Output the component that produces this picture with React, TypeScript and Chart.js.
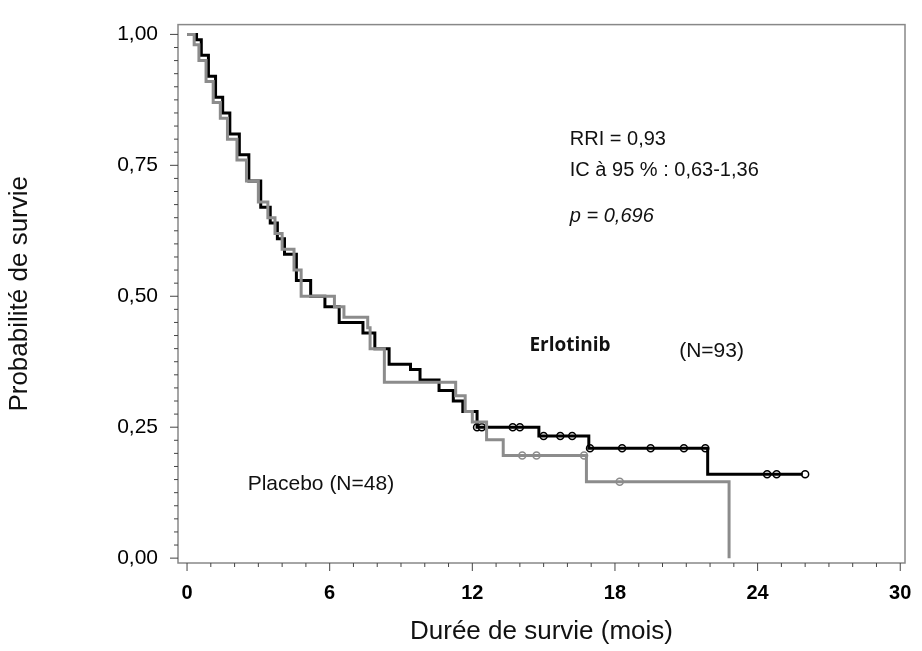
import React, { useEffect, useRef } from "react";
import { Chart, registerables } from "chart.js";
Chart.register(...registerables);

const erloT = [0, 0.4, 0.6, 0.9, 1.2, 1.5, 1.8, 2.2, 2.6, 3.1, 3.5, 3.8, 4.1, 4.6, 5.2, 5.8, 6.4, 7.4, 7.9, 8.5, 9.4, 9.8, 10.6, 11.2, 11.6, 12.2, 14.8, 16.9, 21.9, 25.9];
const erloS = [1.0, 0.99, 0.96, 0.92, 0.88, 0.85, 0.81, 0.77, 0.72, 0.67, 0.64, 0.61, 0.58, 0.53, 0.5, 0.48, 0.45, 0.43, 0.4, 0.37, 0.36, 0.34, 0.32, 0.3, 0.28, 0.25, 0.233, 0.21, 0.16, 0.16];
const placT = [0, 0.3, 0.5, 0.8, 1.1, 1.4, 1.7, 2.1, 2.5, 3.0, 3.4, 3.7, 4.0, 4.5, 4.8, 6.2, 6.6, 7.6, 7.7, 8.3, 11.3, 11.7, 12.0, 12.6, 13.3, 16.8, 22.8];
const placS = [1.0, 0.98, 0.95, 0.91, 0.87, 0.84, 0.8, 0.76, 0.72, 0.68, 0.65, 0.62, 0.59, 0.55, 0.5, 0.48, 0.46, 0.44, 0.4, 0.336, 0.31, 0.28, 0.26, 0.226, 0.196, 0.146, 0.0];
const erloCens = [12.2, 12.4, 13.7, 14.0, 15.0, 15.7, 16.2, 16.95, 18.3, 19.5, 20.9, 21.8, 24.4, 24.8, 26.0];
const placCens = [14.1, 14.7, 16.7, 18.2];
const xTicks = [0, 6, 12, 18, 24, 30];
const yTicks = [0, 0.25, 0.5, 0.75, 1.0];

const stepAt = (T: number[], S: number[], t: number) => {
  let v = S[0];
  for (let i = 0; i < T.length; i++) if (T[i] <= t) v = S[i];
  return v;
};

export default function App() {
  const ref = useRef<HTMLCanvasElement>(null);
  useEffect(() => {
    document.body.style.margin = "0";
    const font = "'Liberation Sans', Arial, sans-serif";
    const overlay = {
      id: "overlay",
      afterDraw(c: any) {
        const { ctx, chartArea: a, scales } = c;
        const xs = scales.x, ys = scales.y;
        ctx.save();
        ctx.strokeStyle = "#888";
        ctx.lineWidth = 1.5;
        ctx.strokeRect(a.left, a.top, a.right - a.left, a.bottom - a.top);
        ctx.strokeStyle = "#444";
        ctx.lineWidth = 1;
        for (let m = 0; m <= 30; m++) {
          const px = xs.getPixelForValue(m);
          const len = m % 6 === 0 ? 8 : 4;
          ctx.beginPath(); ctx.moveTo(px, a.bottom); ctx.lineTo(px, a.bottom + len); ctx.stroke();
        }
        for (let k = 0; k <= 40; k++) {
          const v = k * 0.025;
          const py = ys.getPixelForValue(v);
          const len = k % 10 === 0 ? 8 : 4;
          ctx.beginPath(); ctx.moveTo(a.left, py); ctx.lineTo(a.left - len, py); ctx.stroke();
        }
        ctx.fillStyle = "#111";
        ctx.textBaseline = "middle";
        const txt = (s: string, t: number, y: number, f: string) => {
          ctx.font = f; ctx.fillText(s, xs.getPixelForValue(t), ys.getPixelForValue(y));
        };
        txt("RRI = 0,93", 16.1, 0.8, `20px ${font}`);
        txt("IC à 95 % : 0,63-1,36", 16.1, 0.74, `20px ${font}`);
        txt("p = 0,696", 16.1, 0.653, `italic 20px ${font}`);
        txt("Erlotinib", 14.4, 0.405, `bold 19px 'Open Sans', sans-serif`);
        txt("(N=93)", 20.7, 0.395, `21px ${font}`);
        txt("Placebo (N=48)", 2.55, 0.142, `21px ${font}`);
        ctx.restore();
      },
    };
    const km = (T: number[], S: number[]) => T.map((t, i) => ({ x: t, y: S[i] }));
    const chart = new Chart(ref.current!, {
      type: "line",
      data: {
        datasets: [
          { data: km(placT, placS), borderColor: "#8c8c8c", borderWidth: 3, stepped: "before", pointRadius: 0, fill: false },
          { data: km(erloT, erloS), borderColor: "#000", borderWidth: 3, stepped: "before", pointRadius: 0, fill: false },
          { data: placCens.map((t) => ({ x: t, y: stepAt(placT, placS, t) })), showLine: false, pointStyle: "circle", pointRadius: 3.5, borderColor: "#8c8c8c", backgroundColor: "#fff", borderWidth: 1.5 },
          { data: erloCens.map((t) => ({ x: t, y: stepAt(erloT, erloS, t) })), showLine: false, pointStyle: "circle", pointRadius: 3.5, borderColor: "#000", backgroundColor: "#fff", borderWidth: 1.5 },
        ],
      } as any,
      options: {
        animation: false,
        responsive: false,
        layout: { padding: { top: 12, right: 17, left: 0, bottom: 0 } },
        plugins: { legend: { display: false }, tooltip: { enabled: false } },
        scales: {
          x: {
            type: "linear", min: -0.38, max: 30.2,
            afterBuildTicks: (s: any) => { s.ticks = xTicks.map((v) => ({ value: v })); },
            afterFit: (s: any) => { s.height = 88; },
            grid: { display: false },
            border: { display: false },
            ticks: { color: "#000", font: { family: font, size: 20, weight: "bold" }, padding: 10 },
            title: { display: true, text: "Durée de survie (mois)", color: "#111", font: { family: font, size: 26 }, padding: { top: 0 } },
          },
          y: {
            min: -0.0093, max: 1.0187,
            afterBuildTicks: (s: any) => { s.ticks = yTicks.map((v) => ({ value: v })); },
            afterFit: (s: any) => { s.width = 178; },
            grid: { display: false },
            border: { display: false },
            ticks: { color: "#000", font: { family: font, size: 21 }, padding: 12, callback: (v: any) => Number(v).toFixed(2).replace(".", ",") },
            title: { display: true, text: "Probabilité de survie", color: "#111", font: { family: font, size: 26 }, padding: { bottom: 10 } },
          },
        },
      } as any,
      plugins: [overlay],
    });
    return () => chart.destroy();
  }, []);
  return <canvas ref={ref} width={922} height={651} style={{ display: "block", width: 922, height: 651 }} />;
}
